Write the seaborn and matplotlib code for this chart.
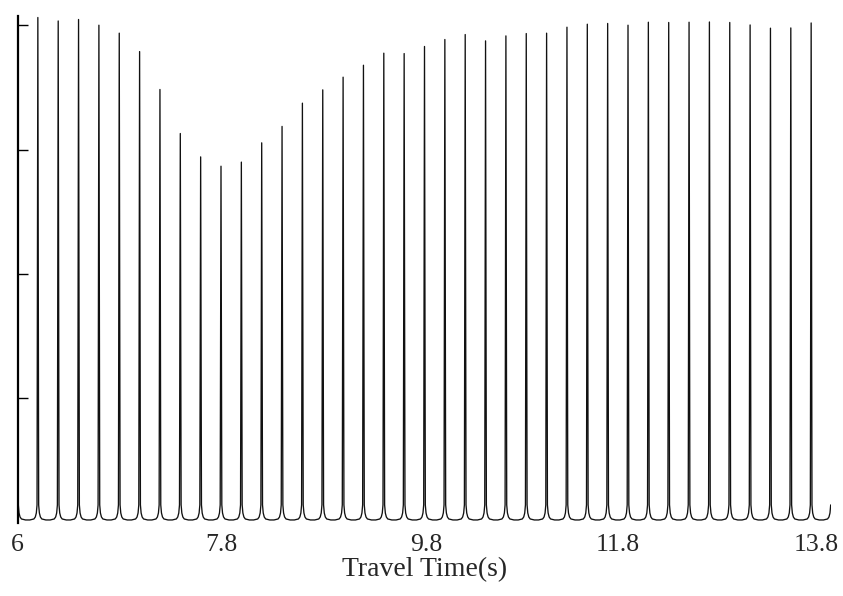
import numpy as np
import pandas as pd
import seaborn as sns
import matplotlib
matplotlib.use("Agg")
import matplotlib.pyplot as plt

# peak centres (s) and peak heights
peak_times = [6.2, 6.4, 6.6, 6.8, 7.0, 7.2, 7.4, 7.6, 7.8, 8.0,
              8.2, 8.4, 8.6, 8.8, 9.0, 9.2, 9.4, 9.6, 9.8, 10.0,
              10.2, 10.4, 10.6, 10.8, 11.0, 11.2, 11.4, 11.6, 11.8, 12.0,
              12.2, 12.4, 12.6, 12.8, 13.0, 13.2, 13.4, 13.6, 13.8]
peak_heights = [4.063, 4.035, 4.047, 4.001, 3.937, 3.789, 3.484, 3.130, 2.942, 2.867,
                2.900, 3.055, 3.187, 3.374, 3.481, 3.583, 3.679, 3.776, 3.773, 3.830,
                3.886, 3.926, 3.875, 3.915, 3.934, 3.937, 3.985, 4.009, 4.015, 4.001,
                4.025, 4.023, 4.025, 4.027, 4.023, 4.003, 3.977, 3.979, 4.019]

# shape of the foot around each peak (offset in s, level)
foot_dx = [-0.079, -0.039, -0.025, -0.015, -0.008, 0.0, 0.008, 0.015, 0.025, 0.039, 0.079]
foot_y = [0.022, 0.030, 0.046, 0.078, 0.143, np.nan, 0.143, 0.078, 0.046, 0.030, 0.022]

# partial feet of the peaks sitting on the axis edges (6.0 s and 14.0 s)
left_edge_x = [6.004, 6.008, 6.015, 6.025, 6.039, 6.079]
left_edge_y = [0.16, 0.143, 0.078, 0.046, 0.030, 0.022]
right_edge_x = [13.921, 13.961, 13.975, 13.985, 13.992]
right_edge_y = [0.022, 0.030, 0.046, 0.078, 0.143]

tick_pos = [6.0, 8.0, 10.02, 11.9, 13.85]
tick_labels = ["6", "7.8", "9.8", "11.8", "13.8"]

xs, ys = [left_edge_x], [left_edge_y]
for t, h in zip(peak_times, peak_heights):
    xs.append(t + np.array(foot_dx))
    ys.append(np.where(np.isnan(foot_y), h, foot_y))
xs.append(right_edge_x)
ys.append(right_edge_y)
df = pd.DataFrame({"time": np.concatenate(xs), "amp": np.concatenate(ys)})

sns.set_style("ticks")
plt.rcParams["font.family"] = ["Liberation Serif", "DejaVu Serif"]

fig = plt.figure(figsize=(8.43, 5.96), dpi=100)
ax = fig.add_axes([17.5 / 843, (596 - 522.7) / 596, (831 - 17.5) / 843, (522.7 - 16) / 596])

sns.lineplot(data=df, x="time", y="amp", sort=False, estimator=None,
             color="#111111", linewidth=0.95, ax=ax)

ax.set_xlim(6.0, 13.995)
ax.set_ylim(0, 4.075)
ax.set_xticks(tick_pos)
ax.set_xticklabels(tick_labels)
ax.set_yticks([1, 2, 3, 4])
ax.set_yticklabels([])
ax.tick_params(axis="x", length=0, pad=8, labelsize=18.5)
ax.tick_params(axis="y", direction="in", length=7, width=1.0, color="black")
ax.set_xlabel("Travel Time(s)", fontsize=20, labelpad=1)
ax.set_ylabel("")

for s in ["top", "right", "bottom"]:
    ax.spines[s].set_visible(False)
ax.spines["left"].set_linewidth(1.6)
ax.spines["left"].set_color("black")

fig.savefig("out.png", dpi=100)
